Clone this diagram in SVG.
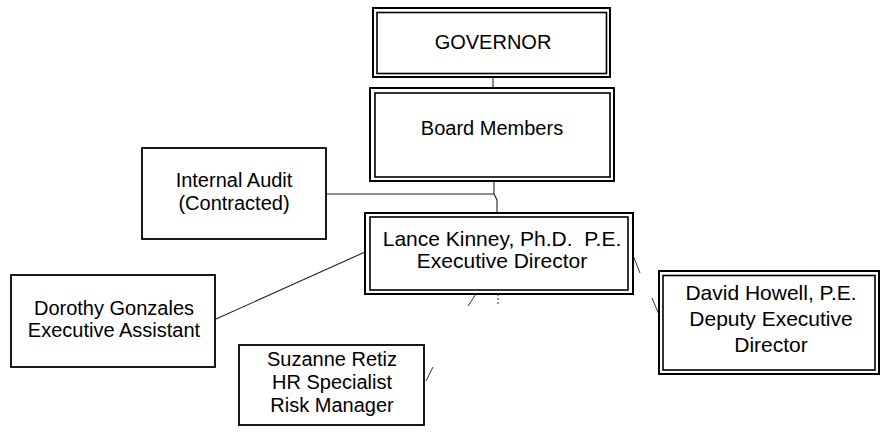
<svg xmlns="http://www.w3.org/2000/svg" width="886" height="433" viewBox="0 0 886 433">
<style>
.bg{fill:#fff}
.box{fill:#fff;stroke:#000;stroke-width:1.8}
.outer{fill:#fff;stroke:#000;stroke-width:2}
.inner{fill:none;stroke:#000;stroke-width:1.6}
.t{font-family:"Liberation Sans",Arial,sans-serif;fill:#000;text-anchor:middle}
.f20{font-size:20px}
.f21{font-size:21px}
.c{fill:none;stroke:#222;stroke-width:1.1}
.frag{fill:none;stroke:#333;stroke-width:1}
</style>
<rect class="bg" x="0" y="0" width="886" height="433"/>
<g id="connectors">
  <path class="c" d="M493 77 V88"/>
  <path class="c" d="M326 194 H494"/>
  <path class="c" d="M494 181 V194 L497 200 V213"/>
  <path class="c" d="M216 319 L365 252"/>
  <path class="frag" d="M632 253 L640 273"/>
  <path class="frag" d="M652 298 L660 317"/>
  <path class="frag" d="M476 294 L468 306"/>
  <path class="frag" d="M498 294 V305" stroke-dasharray="2 2"/>
  <path class="frag" d="M433 367 L426 381"/>
</g>
<g id="governor">
  <rect class="outer" x="373" y="8" width="237" height="69"/>
  <rect class="inner" x="377" y="12.5" width="229.5" height="61"/>
  <text class="t f20" x="493" y="49">GOVERNOR</text>
</g>
<g id="board">
  <rect class="outer" x="370" y="88" width="244" height="93"/>
  <rect class="inner" x="375" y="93" width="235" height="84"/>
  <text class="t f20" x="492" y="135">Board Members</text>
</g>
<g id="audit">
  <rect class="box" x="142" y="148" width="184" height="91"/>
  <text class="t f20" x="234" y="187">Internal Audit</text>
  <text class="t f20" x="234" y="210">(Contracted)</text>
</g>
<g id="director">
  <rect class="outer" x="365" y="213" width="268" height="81"/>
  <rect class="inner" x="370" y="217" width="258" height="73"/>
  <text class="t f21" x="502" y="246" xml:space="preserve">Lance Kinney, Ph.D.  P.E.</text>
  <text class="t f21" x="502" y="268">Executive Director</text>
</g>
<g id="assistant">
  <rect class="box" x="11" y="275" width="204" height="92"/>
  <text class="t f20" x="114" y="315">Dorothy Gonzales</text>
  <text class="t f20" x="114" y="337">Executive Assistant</text>
</g>
<g id="hr">
  <rect class="box" x="239" y="345" width="185" height="80"/>
  <text class="t f20" x="332" y="366">Suzanne Retiz</text>
  <text class="t f20" x="332" y="389">HR Specialist</text>
  <text class="t f20" x="332" y="412">Risk Manager</text>
</g>
<g id="deputy">
  <rect class="outer" x="659" y="271" width="220" height="103"/>
  <rect class="inner" x="663" y="275.5" width="212" height="94.5"/>
  <text class="t f21" x="771" y="300">David Howell, P.E.</text>
  <text class="t f21" x="771" y="326">Deputy Executive</text>
  <text class="t f21" x="771" y="352">Director</text>
</g>
</svg>
